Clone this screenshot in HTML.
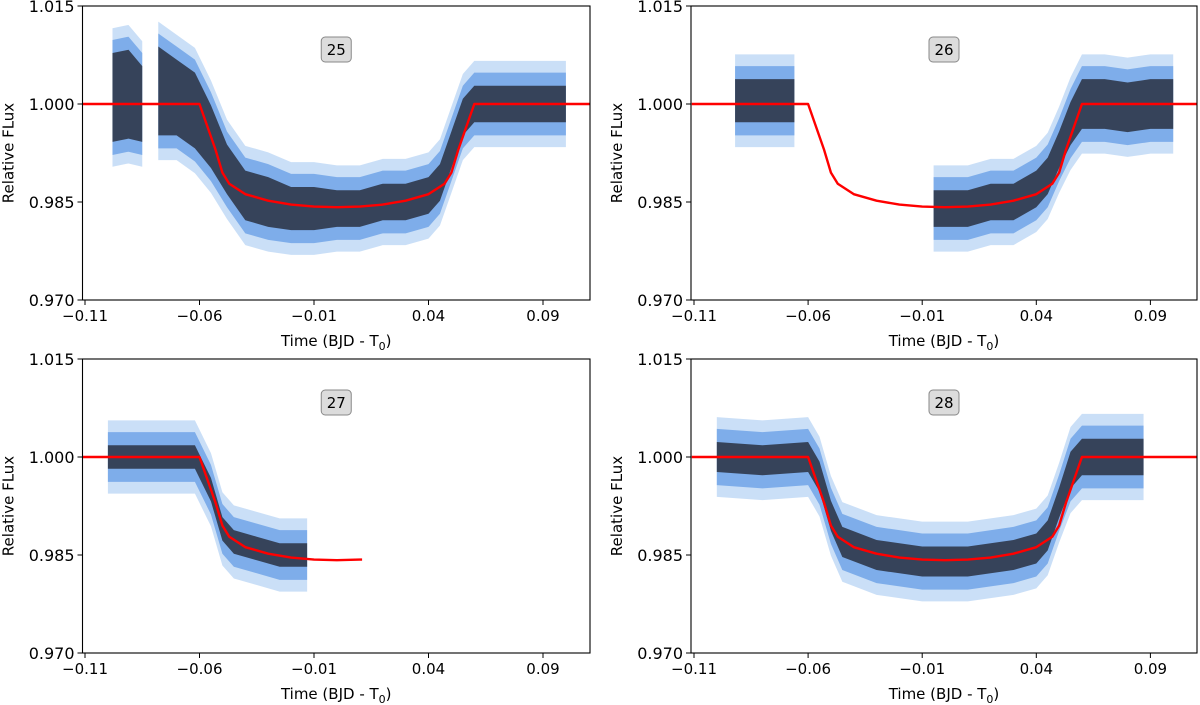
<!DOCTYPE html>
<html><head><meta charset="utf-8"><style>
body{margin:0;background:#fff}
svg{display:block;font-family:"DejaVu Sans","Liberation Sans",sans-serif}
</style></head><body>
<svg id="fig" width="1200" height="705" viewBox="0 0 1200 705"></svg>
<script>
// ---- data ----
const yTicks = [0.970, 0.985, 1.000, 1.015];
const xTicks = [-0.11, -0.06, -0.01, 0.04, 0.09];
const panelLabels = ["25", "26", "27", "28"];
// binned observations: time, mean flux, half-spread of points (null time = gap)
const p1T = [-0.098,-0.091,-0.085,null,-0.078,-0.07,-0.062,-0.055,-0.048,-0.04,-0.03,-0.02,-0.01,0,0.01,0.02,0.03,0.04,0.045,0.05,0.055,0.06,0.07,0.08,0.09,0.1];
const p1F = [1.001,1.0015,1.000,null,1.002,1.001,0.999,0.995,0.990,0.986,0.985,0.984,0.984,0.984,0.984,0.985,0.985,0.986,0.988,0.993,0.998,1.000,1.000,1.000,1.000,1.000];
const p1S = [0.008,0.008,0.007,null,0.008,0.007,0.007,0.006,0.005,0.005,0.005,0.0045,0.0045,0.004,0.004,0.004,0.004,0.004,0.004,0.004,0.004,0.004,0.004,0.004,0.004,0.004];
const p2T = [-0.092,-0.08,-0.066,null,-0.005,0.01,0.02,0.03,0.04,0.045,0.05,0.055,0.06,0.07,0.08,0.09,0.1];
const p2F = [1.0005,1.0005,1.0005,null,0.984,0.984,0.985,0.985,0.987,0.989,0.993,0.997,1.000,1.000,0.9995,1.000,1.000];
const p2S = [0.0045,0.0045,0.0045,null,0.004,0.004,0.004,0.004,0.004,0.004,0.004,0.0045,0.005,0.005,0.005,0.005,0.005];
const p3T = [-0.1,-0.08,-0.062,-0.055,-0.05,-0.045,-0.035,-0.025,-0.013];
const p3F = [1.000,1.000,1.000,0.995,0.989,0.987,0.986,0.985,0.985];
const p3S = [0.003,0.003,0.003,0.003,0.003,0.003,0.003,0.003,0.003];
const p4T = [-0.1,-0.08,-0.06,-0.055,-0.05,-0.045,-0.03,-0.01,0.01,0.03,0.04,0.045,0.05,0.055,0.06,0.075,0.087];
const p4F = [1.000,0.9995,1.000,0.997,0.991,0.987,0.985,0.984,0.984,0.985,0.986,0.988,0.993,0.998,1.000,1.000,1.000];
const p4S = [0.0035,0.0035,0.0035,0.0035,0.0035,0.0035,0.0035,0.0035,0.0035,0.0035,0.0035,0.0035,0.0035,0.004,0.004,0.004,0.004];
// transit model
const modelT = [-0.111,-0.06,-0.0565,-0.053,-0.05,-0.047,-0.04,-0.03,-0.02,-0.01,0,0.01,0.02,0.03,0.04,0.047,0.05,0.053,0.0565,0.06,0.111];
const modelF = [1.0,1.0,0.9965,0.993,0.9895,0.9878,0.9862,0.9852,0.9846,0.9843,0.9842,0.9843,0.9846,0.9852,0.9862,0.9878,0.9895,0.993,0.9965,1.0,1.0];
const modelEnd = [0.111, 0.111, 0.011, 0.111];

const NS = "http://www.w3.org/2000/svg";
const svg = document.getElementById("fig");
function mk(tag, attrs, parent){const e=document.createElementNS(NS,tag);for(const k in attrs)e.setAttribute(k,attrs[k]);(parent||svg).appendChild(e);return e;}

const panels = [
 {L:82.5,R:590,T:6,B:300,x0:85,xs:2290,T_:p1T,F:p1F,S:p1S},
 {L:691,R:1197,T:6,B:300,x0:694,xs:2282,T_:p2T,F:p2F,S:p2S},
 {L:82.5,R:590,T:359,B:653,x0:85,xs:2290,T_:p3T,F:p3F,S:p3S},
 {L:691,R:1197,T:359,B:653,x0:694,xs:2282,T_:p4T,F:p4F,S:p4S}
];

panels.forEach((p,i)=>{
  const X = t => p.x0 + (t + 0.11) * p.xs;
  const Y = f => p.B - (f - 0.970) / 0.045 * (p.B - p.T);
  const g = mk("g",{});
  
  
  const cid = "clip"+i;
  const cp = mk("clipPath",{id:cid},g);
  mk("rect",{x:p.L,y:p.T,width:p.R-p.L,height:p.B-p.T},cp);
  const plot = mk("g",{"clip-path":"url(#"+cid+")"},g);
  let segs=[[]];
  p.T_.forEach((t,j)=>{ if(t===null){segs.push([]);} else segs[segs.length-1].push(j); });
  segs.forEach(seg=>{
    if(!seg.length) return;
    const band=(extra)=>{
      let up=seg.map(j=>X(p.T_[j])+","+Y(p.F[j]+p.S[j]+extra));
      let dn=seg.slice().reverse().map(j=>X(p.T_[j])+","+Y(p.F[j]-p.S[j]-extra));
      return up.concat(dn).join(" ");
    };
    const eb = mk("polygon",{points:band(0.0026),fill:"#c4dbf6",opacity:"0.9"},plot);
    
    
    const ib = mk("polygon",{points:band(0.0008),fill:"#6aa0e6",opacity:"0.8"},plot);
    
    
    const db = mk("polygon",{points:band(-0.0012),fill:"#1a1a22",opacity:"0.72"},plot);
    
    
  });
  const pts=[];
  modelT.forEach((t,j)=>{ if(t<=modelEnd[i]+1e-9) pts.push(X(t)+","+Y(modelF[j])); });
  if(modelEnd[i]<0.1){ pts.push(X(modelEnd[i])+","+Y(0.9843)); }
  const ml = mk("polyline",{points:pts.join(" "),fill:"none",stroke:"#f00","stroke-width":2.4,"stroke-linejoin":"round"},plot);
  
  
  const fr = mk("rect",{x:p.L,y:p.T,width:p.R-p.L,height:p.B-p.T,fill:"none",stroke:"#000","stroke-width":1.1},g);
  
  
  yTicks.forEach(v=>{
    const y=Y(v);
    mk("line",{x1:p.L-5,x2:p.L,y1:y,y2:y,stroke:"#000","stroke-width":1},g);
    const tx=mk("text",{x:p.L-8,y:y+6,"text-anchor":"end","font-size":16,fill:"#000"},g);
    tx.textContent=v.toFixed(3);
    
    
  });
  xTicks.forEach(v=>{
    const x=X(v);
    mk("line",{x1:x,x2:x,y1:p.B,y2:p.B+5,stroke:"#000","stroke-width":1},g);
    const tx=mk("text",{x:x,y:p.B+21,"text-anchor":"middle","font-size":15,fill:"#000"},g);
    tx.textContent=(v<0?"\u2212":"")+Math.abs(v).toFixed(2);
    
    
  });
  const yl=mk("text",{x:0,y:0,transform:"translate("+(p.L-69)+","+((p.T+p.B)/2)+") rotate(-90)","text-anchor":"middle","font-size":15,fill:"#000"},g);
  yl.textContent="Relative FLux";
  
  
  const xl=mk("text",{x:(p.L+p.R)/2,y:p.B+46,"text-anchor":"middle","font-size":15,fill:"#000"},g);
  xl.innerHTML='Time (BJD - T<tspan font-size="11" dy="4">0</tspan><tspan dy="-4">)</tspan>';
  
  
  const cx=(p.L+p.R)/2, cy=p.T+43;
  const lb=mk("rect",{x:cx-15,y:cy-12,width:30,height:25,rx:4,fill:"#dcdcdc",stroke:"#888","stroke-width":1},g);
  
  
  const lt=mk("text",{x:cx,y:cy+6,"text-anchor":"middle","font-size":15,fill:"#000"},g);
  lt.textContent=panelLabels[i];
  
  
});
</script>
</body></html>
